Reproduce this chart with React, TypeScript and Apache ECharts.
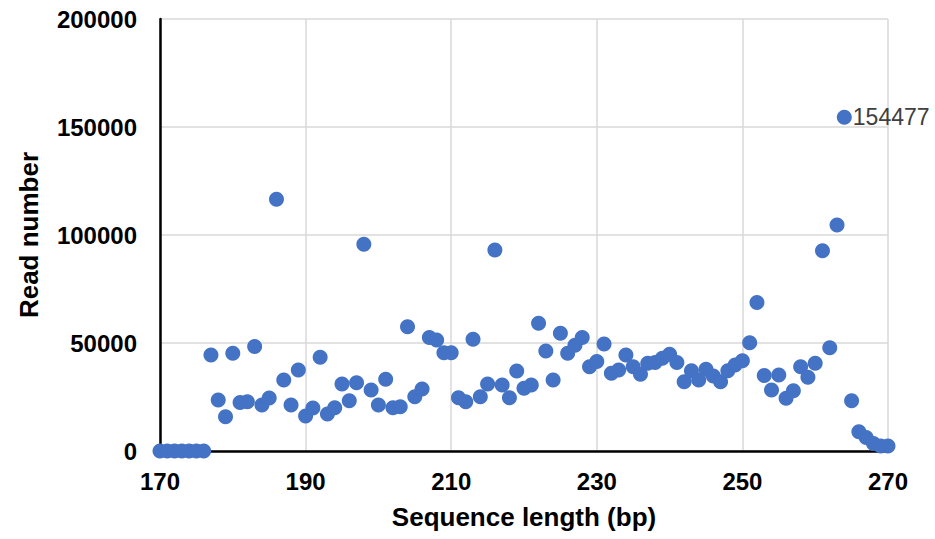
import React, { useEffect, useRef } from "react";
import * as echarts from "echarts";

const lengths: number[] = [
  170, 171, 172, 173, 174, 175, 176, 177, 178, 179,
  180, 181, 182, 183, 184, 185, 186, 187, 188, 189,
  190, 191, 192, 193, 194, 195, 196, 197, 198, 199,
  200, 201, 202, 203, 204, 205, 206, 207, 208, 209,
  210, 211, 212, 213, 214, 215, 216, 217, 218, 219,
  220, 221, 222, 223, 224, 225, 226, 227, 228, 229,
  230, 231, 232, 233, 234, 235, 236, 237, 238, 239,
  240, 241, 242, 243, 244, 245, 246, 247, 248, 249,
  250, 251, 252, 253, 254, 255, 256, 257, 258, 259,
  260, 261, 262, 263, 264, 265, 266, 267, 268, 269,
  270,
];

const readNumbers: number[] = [
  0, 0, 0, 0, 0, 0, 0, 44400, 23600, 15900,
  45200, 22400, 22800, 48400, 21300, 24500, 116500, 32900, 21300, 37500,
  16200, 19900, 43400, 17100, 20000, 31000, 23300, 31600, 95700, 28200,
  21300, 33200, 20000, 20500, 57500, 25100, 28700, 52600, 51400, 45500,
  45500, 24700, 22800, 51700, 25100, 31000, 93000, 30600, 24700, 37000,
  29000, 30600, 59100, 46300, 32900, 54500, 45200, 49000, 52600, 39000,
  41400, 49500, 36000, 37500, 44400, 39000, 35500, 40600, 41000, 42900,
  44800, 41000, 32100, 37200, 32900, 37800, 34700, 32100, 37200, 39800,
  41800, 50100, 68700, 34900, 28200, 35200, 24400, 27900, 39000, 34100,
  40600, 92700, 47800, 104600, 154477, 23300, 8900, 6200, 3500, 2300,
  2300,
];

const labelledLength = 264;

const xTicks = { min: 170, max: 270, interval: 20 };
const yTicks = { min: 0, max: 200000, interval: 50000 };

export default function App() {
  const ref = useRef<HTMLDivElement>(null);

  useEffect(() => {
    if (!ref.current) return;
    const chart = echarts.init(ref.current, undefined, { renderer: "svg" });
    const font = "'Liberation Sans', Arial, sans-serif";
    const data = lengths.map((x, i) => {
      const item: any = { value: [x, readNumbers[i]] };
      if (x === labelledLength) {
        item.label = {
          show: true,
          position: "right",
          distance: 1,
          formatter: (p: any) => String(p.value[1]),
          color: "#404040",
          fontSize: 23,
          fontFamily: font,
        };
      }
      return item;
    });
    chart.setOption({
      animation: false,
      backgroundColor: "#ffffff",
      grid: { left: 160, right: 47, top: 19, bottom: 88, containLabel: false },
      xAxis: {
        type: "value",
        min: xTicks.min,
        max: xTicks.max,
        interval: xTicks.interval,
        name: "Sequence length (bp)",
        nameLocation: "middle",
        nameGap: 53,
        nameTextStyle: { fontSize: 26, fontWeight: "bold", color: "#000", fontFamily: font },
        axisLine: { show: true, onZero: false, lineStyle: { color: "#000", width: 2.5 } },
        axisTick: { show: false },
        axisLabel: {
          fontSize: 24,
          fontWeight: "bold",
          color: "#000",
          margin: 18,
          fontFamily: font,
          formatter: (v: number) => String(v),
        },
        splitLine: { show: true, lineStyle: { color: "#d9d9d9", width: 1.5 } },
      },
      yAxis: {
        type: "value",
        min: yTicks.min,
        max: yTicks.max,
        interval: yTicks.interval,
        name: "Read number",
        nameLocation: "middle",
        nameRotate: 90,
        nameGap: 118,
        nameTextStyle: { fontSize: 26, fontWeight: "bold", color: "#000", fontFamily: font },
        axisLine: { show: true, lineStyle: { color: "#000", width: 2.5 } },
        axisTick: { show: false },
        axisLabel: {
          fontSize: 24,
          fontWeight: "bold",
          color: "#000",
          margin: 23,
          fontFamily: font,
          formatter: (v: number) => String(v),
        },
        splitLine: { show: true, lineStyle: { color: "#d9d9d9", width: 1.5 } },
      },
      series: [
        {
          type: "scatter",
          symbol: "circle",
          symbolSize: 15,
          itemStyle: { color: "#4472C4", opacity: 1 },
          data,
        },
      ],
    });
    return () => chart.dispose();
  }, []);

  return (
    <div
      ref={ref}
      style={{ position: "absolute", left: 0, top: 0, width: 935, height: 539 }}
    />
  );
}
